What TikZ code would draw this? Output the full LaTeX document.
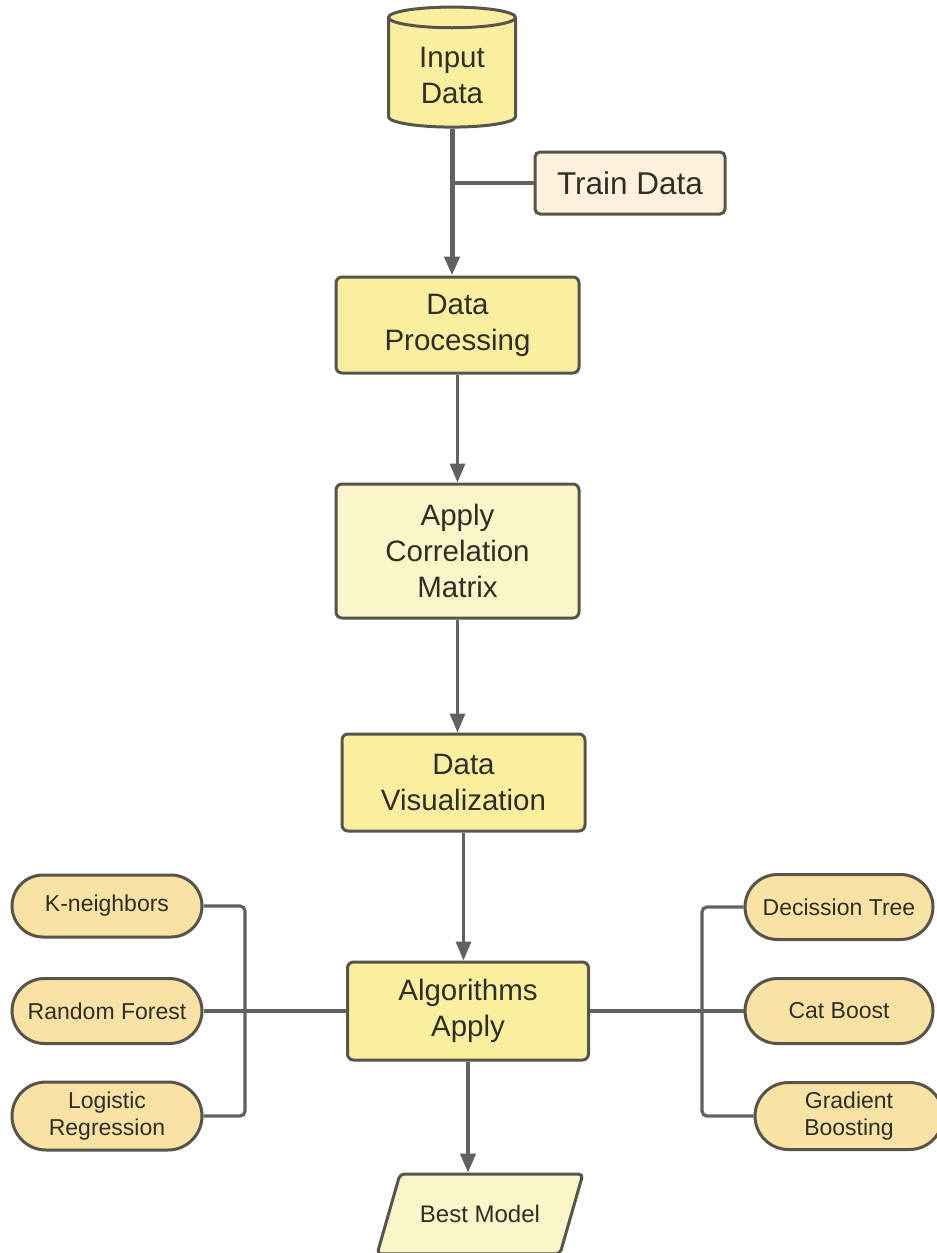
\documentclass[tikz,border=0pt]{standalone}
\usepackage{fontspec}
\setmainfont{Liberation Sans}
\usetikzlibrary{arrows.meta,shapes.geometric,shapes.misc}
\definecolor{boxyellow}{HTML}{FAEE9F}
\definecolor{paleyellow}{HTML}{FBF6C9}
\definecolor{peach}{HTML}{FDF1DD}
\definecolor{pillfill}{HTML}{F9E3A4}
\definecolor{edgecol}{HTML}{57544A}
\definecolor{wirecol}{HTML}{616161}
\definecolor{ink}{HTML}{2F2F26}
\begin{document}
\begin{tikzpicture}[x=1pt,y=-1pt,
  base/.style={draw=edgecol, line width=3pt, text=ink, align=center, inner sep=0pt},
  bigtext/.style={font={\fontsize{29.5}{36}\selectfont}},
  box/.style={base, bigtext, rectangle, rounded corners=6pt, fill=boxyellow,
    minimum width=243pt},
  pillbox/.style={base, rounded rectangle, fill=pillfill, minimum width=190pt,
    minimum height=65pt, font={\fontsize{23}{27.5}\selectfont}},
  wire/.style={draw=wirecol, line width=3.2pt},
  arrowline/.style={wire, -{Triangle[length=19pt,width=15pt]}},
]
\useasboundingbox (0,0) rectangle (937,1253);
\fill[white] (0,0) rectangle (937,1253);

% main column
\node[base, bigtext, cylinder, shape border rotate=90, aspect=0.315, fill=boxyellow,
  minimum width=127pt, minimum height=120pt] (input) at (452,73)
  {\rule{0pt}{26pt}Input\\Data};
\node[base, rectangle, rounded corners=5pt, fill=peach, minimum width=190pt, minimum height=62pt,
  font={\fontsize{31.5}{36}\selectfont}] (train) at (630,183) {Train Data};
\node[box, minimum height=96pt] (dp) at (457.5,325) {Data\\Processing};
\node[box, fill=paleyellow, minimum height=134pt] (acm) at (457.5,551) {Apply\\Correlation\\Matrix};
\node[box, minimum height=97pt] (dv) at (463.5,782.5) {Data\\Visualization};
\node[box, minimum width=241pt, minimum height=98pt] (algo) at (468,1011) {Algorithms\\Apply};
\node[base, trapezium, trapezium left angle=74, trapezium right angle=106,
  rounded corners=4pt, fill=paleyellow, inner xsep=20pt, inner ysep=31pt,
  font={\fontsize{24}{28}\selectfont}] (best) at (480,1214) {Best Model};

% left models
\node[pillbox, minimum height=62pt] (kn) at (107,906) {K-neighbors};
\node[pillbox] (rf) at (107,1011) {Random Forest};
\node[pillbox, minimum height=68pt] (lr) at (107,1116) {Logistic\\Regression};

% right models
\node[pillbox, minimum width=188pt] (dt) at (839,907) {Decission Tree};
\node[pillbox, minimum width=188pt] (cb) at (839,1011) {Cat Boost};
\node[pillbox, minimum width=188pt, minimum height=67pt] (gb) at (849,1116) {Gradient\\Boosting};

% connectors
\draw[arrowline, line width=5pt] (input.south) -- (input.south |- dp.north);
\draw[wire] (train.west) -- (input.south |- train.west);
\draw[arrowline] (dp.south) -- (acm.north);
\draw[arrowline] (acm.south) -- (acm.south |- dv.north);
\draw[arrowline] (dv.south) -- (dv.south |- algo.north);
\draw[arrowline, line width=4pt] (algo.south) -- (algo.south |- best.north);

\coordinate (lbus) at (245,1011);
\draw[wire, rounded corners=5pt] (kn.east) -| (lbus) |- (lr.east);
\draw[wire] (rf.east) -- (algo.west);
\coordinate (rbus) at (702,1011);
\draw[wire, rounded corners=5pt] (dt.west) -| (rbus) |- (gb.west);
\draw[wire] (cb.west) -- (algo.east);
\end{tikzpicture}
\end{document}
